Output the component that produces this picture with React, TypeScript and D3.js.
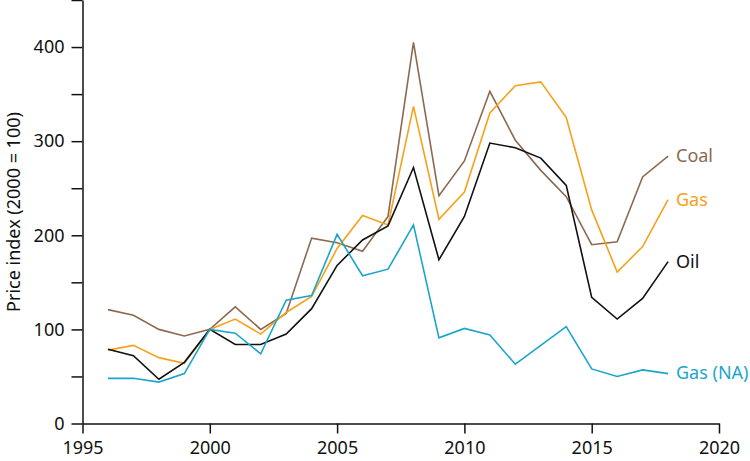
import React, { useEffect, useRef } from "react";
import * as d3 from "d3";

const years = d3.range(1996, 2019);
const coal = [121, 115, 100, 93, 100, 124, 100, 117, 197, 192, 183, 220, 405, 242, 279, 353, 301, 269, 241, 190, 193, 262, 284];
const gas = [78, 83, 70, 64, 100, 111, 95, 118, 135, 186, 221, 211, 337, 217, 246, 330, 359, 363, 325, 227, 161, 188, 238];
const oil = [79, 72, 47, 65, 100, 84, 84, 95, 122, 168, 195, 210, 272, 174, 220, 298, 293, 282, 253, 134, 111, 133, 172];
const gasNA = [48, 48, 44, 53, 100, 96, 74, 131, 136, 201, 157, 164, 211, 91, 101, 94, 63, 83, 103, 58, 50, 57, 53];

const xTicks = [1995, 2000, 2005, 2010, 2015, 2020];
const yTicks = d3.range(0, 451, 50);

const seriesList = [
  { name: "Coal", values: coal, color: "#8c6a52", labelY: 161.5 },
  { name: "Gas", values: gas, color: "#f7a11a", labelY: 205.5 },
  { name: "Oil", values: oil, color: "#111111", labelY: 268 },
  { name: "Gas (NA)", values: gasNA, color: "#1aa6cb", labelY: 379 },
];

const FONT = "'Noto Sans', sans-serif";

export default function App() {
  const ref = useRef<SVGSVGElement>(null);
  useEffect(() => {
    const svg = d3.select(ref.current);
    svg.selectAll("*").remove();
    const x = d3.scaleLinear().domain([1995, 2020]).range([82.5, 719]);
    const y = d3.scaleLinear().domain([0, 450]).range([423.5, 0]);

    const gx = svg.append("g").attr("transform", `translate(0,${y(0)})`)
      .call(d3.axisBottom(x).tickValues(xTicks).tickFormat(d3.format("d")).tickSize(10).tickSizeOuter(0).tickPadding(8));
    gx.selectAll("text").attr("font-size", 18).attr("font-family", FONT).attr("fill", "#111");
    gx.selectAll("line,path").attr("stroke", "#111").attr("stroke-width", 1.5);

    const gy = svg.append("g").attr("transform", `translate(${x(1995)},0)`)
      .call(d3.axisLeft(y).tickValues(yTicks).tickFormat((d: any) => (d % 100 === 0 && d <= 400 ? String(d) : "")).tickSize(11).tickSizeOuter(0).tickPadding(7));
    gy.selectAll("text").attr("font-size", 18).attr("font-family", FONT).attr("fill", "#111");
    gy.selectAll("line,path").attr("stroke", "#111").attr("stroke-width", 1.5);

    svg.append("text")
      .attr("transform", `translate(19.5,212) rotate(-90)`)
      .attr("text-anchor", "middle")
      .attr("font-size", 18)
      .attr("font-family", FONT)
      .attr("fill", "#111")
      .text("Price index (2000 = 100)");

    const line = d3.line<number>().x((_, i) => x(years[i])).y((d) => y(d));
    seriesList.forEach((s) => {
      svg.append("path")
        .attr("d", line(s.values))
        .attr("fill", "none")
        .attr("stroke", s.color)
        .attr("stroke-width", 1.6)
        .attr("stroke-linejoin", "miter");
      svg.append("text")
        .attr("x", 676)
        .attr("y", s.labelY)
        .attr("font-size", 18)
        .attr("font-family", FONT)
        .attr("fill", s.color)
        .text(s.name);
    });
  }, []);
  return (
    <svg ref={ref} width={750} height={461} style={{ position: "absolute", left: 0, top: 0, background: "#fff" }} />
  );
}
